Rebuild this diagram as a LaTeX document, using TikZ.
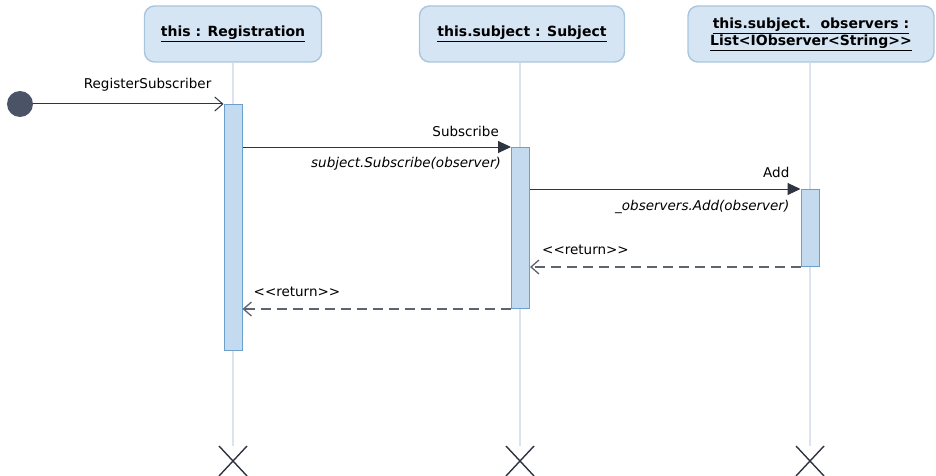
\documentclass[tikz,border=0pt]{standalone}
\usepackage{fontspec}
\setmainfont{DejaVu Sans}
\usetikzlibrary{arrows.meta}
\usetikzlibrary{positioning}

\definecolor{headfill}{HTML}{D5E5F3}
\definecolor{headline}{HTML}{A8C6DE}
\definecolor{actfill}{HTML}{C4DBEF}
\definecolor{actline}{HTML}{6CA0CC}
\definecolor{lifecol}{HTML}{DCE2EE}
\definecolor{msgcol}{HTML}{2E3440}
\definecolor{retcol}{HTML}{5C6472}
\definecolor{dotcol}{HTML}{4B5366}

% keep << and >> from turning into guillemets
\newcommand{\lt}{<\kern0pt}
\newcommand{\gt}{>\kern0pt}
\newcommand{\stereo}[1]{\lt\lt#1\gt\gt}

\tikzset{
    header/.style={draw=headline, fill=headfill, line width=1.4pt,
        rounded corners=10pt, minimum height=56, align=center,
        font=\bfseries\fontsize{14}{17}\selectfont},
    actbar/.style={draw=actline, fill=actfill, line width=1pt,
        minimum width=18, inner sep=0, anchor=north},
    lifeln/.style={lifecol, line width=1.2pt},
    startdot/.style={circle, fill=dotcol, minimum size=26, inner sep=0},
    callmsg/.style={msgcol, line width=1pt, -{Triangle[length=13pt, width=12pt]}},
    entrymsg/.style={msgcol, line width=1pt, -{Straight Barb[length=8pt, width=14pt]}},
    retmsg/.style={retcol, line width=1.3pt, dash pattern=on 10pt off 6pt,
        -{Straight Barb[length=8pt, width=14pt]}},
    msglbl/.style={inner sep=0, font=\fontsize{13.5}{16}\selectfont},
    opcall/.style={inner sep=0, font=\itshape\fontsize{13.5}{16}\selectfont},
    destroy/.style={msgcol, line width=1.4pt}
}

\begin{document}
\begin{tikzpicture}[x=1pt, y=-1pt]
    \useasboundingbox (0,0) rectangle (936,476);

    % lifeline heads
    \node[header, minimum width=177] (reg) at (233,34) {\underline{this : Registration}};
    \node[header, minimum width=205] (subj) at (522,34) {\underline{this.subject : Subject}};
    \node[header, minimum width=246] (obs) at (811,34)
        {\underline{this.subject.\ \ observers :}\\\underline{List\lt IObserver\lt String\gt\gt}};

    % lifelines and their ends
    \coordinate (regend) at (233,446);
    \coordinate (subjend) at (520,446);
    \coordinate (obsend) at (810,446);
    \draw[lifeln] (reg.south -| regend) -- (regend);
    \draw[lifeln] (subj.south -| subjend) -- (subjend);
    \draw[lifeln] (obs.south -| obsend) -- (obsend);
    \foreach \e in {regend, subjend, obsend} {
        \draw[destroy] ([shift={(-14,0)}]\e) -- ([shift={(14,30)}]\e);
        \draw[destroy] ([shift={(14,0)}]\e) -- ([shift={(-14,30)}]\e);
    }

    % activations
    \node[actbar, minimum height=246] (act1) at (233,104) {};
    \node[actbar, minimum height=161] (act2) at (520.5,147) {};
    \node[actbar, minimum height=77] (act3) at (810,189) {};

    % found message
    \node[startdot] (start) at (20,104) {};
    \draw[entrymsg] (start) -- (act1.north west);
    \node[msglbl, anchor=base east] (lblreg) at ([shift={(-12,-15)}]act1.north west) {RegisterSubscriber};

    % calls
    \draw[callmsg] (act1.east |- act2.north) -- (act2.north west);
    \node[msglbl, anchor=base east] (lblsub) at ([shift={(-12,-11)}]act2.north west) {Subscribe};
    \node[opcall, anchor=base east] (opsub) at ([shift={(-10,20)}]act2.north west) {subject.Subscribe(observer)};

    \draw[callmsg] (act2.east |- act3.north) -- (act3.north west);
    \node[msglbl, anchor=base east] (lbladd) at ([shift={(-11,-12)}]act3.north west) {Add};
    \node[opcall, anchor=base east] (opadd) at ([shift={(-11,21)}]act3.north west) {\_observers.Add(observer)};

    % returns
    \draw[retmsg] (act3.south west) -- (act2.east |- act3.south);
    \node[msglbl, anchor=base west] (ret1) at ([shift={(12,-13)}]act2.east |- act3.south) {\stereo{return}};
    \draw[retmsg] (act2.south west) -- (act1.east |- act2.south);
    \node[msglbl, anchor=base west] (ret2) at ([shift={(11,-13)}]act1.east |- act2.south) {\stereo{return}};
\end{tikzpicture}
\end{document}
